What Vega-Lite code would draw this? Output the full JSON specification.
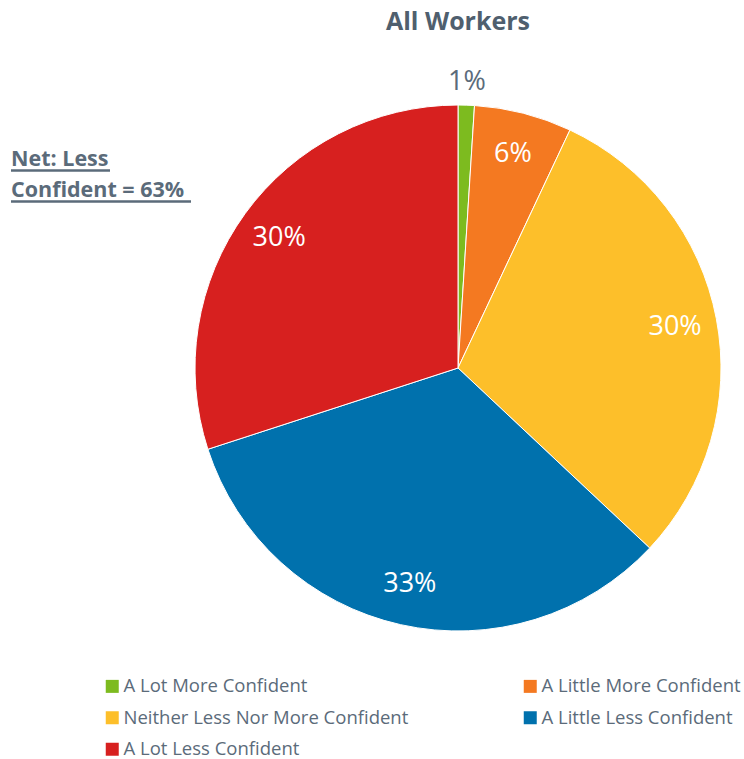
{
  "$schema": "https://vega.github.io/schema/vega-lite/v6.json",
  "width": 526,
  "height": 526,
  "autosize": "none",
  "padding": {"left": 195, "top": 105, "right": 23, "bottom": 128},
  "background": "white",
  "config": {"view": {"stroke": null}},
  "title": {"text": "All Workers", "fontSize": 25, "font": "Open Sans", "fontWeight": "bold", "color": "#4f5f6e", "anchor": "middle", "offset": 33},
  "data": {"values": [
    {"category": "A Lot More Confident", "share": 0.01, "rank": 1},
    {"category": "A Little More Confident", "share": 0.06, "rank": 2},
    {"category": "Neither Less Nor More Confident", "share": 0.30, "rank": 3},
    {"category": "A Little Less Confident", "share": 0.33, "rank": 4},
    {"category": "A Lot Less Confident", "share": 0.30, "rank": 5}
  ]},
  "layer": [
    {
      "mark": {"type": "arc", "stroke": "white", "strokeWidth": 1},
      "encoding": {
        "theta": {"field": "share", "type": "quantitative", "stack": true},
        "order": {"field": "rank", "type": "quantitative"},
        "color": {
          "field": "category", "type": "nominal",
          "scale": {
            "domain": ["A Lot More Confident", "Neither Less Nor More Confident", "A Lot Less Confident", "A Little More Confident", "A Little Less Confident"],
            "range": ["#7dbb1f", "#fdbf2a", "#d7201f", "#f47921", "#0071ad"]
          },
          "sort": null,
          "legend": {
            "title": null, "orient": "none", "legendX": -92, "legendY": 572,
            "columns": 2, "columnPadding": 112, "rowPadding": 12.5,
            "symbolType": "square", "symbolSize": 169, "symbolStrokeWidth": 0,
            "labelFont": "Open Sans", "labelFontSize": 18.5, "labelColor": "#5b6b7a", "labelOffset": 2, "labelLimit": 400
          }
        }
      }
    },
    {
      "mark": {"type": "text", "font": "Open Sans", "fontSize": 27, "align": "center", "baseline": "middle", "radius": 221, "color": "white"},
      "encoding": {
        "theta": {"field": "share", "type": "quantitative", "stack": true},
        "order": {"field": "rank", "type": "quantitative"},
        "text": {"condition": {"test": "datum.share >= 0.02", "field": "share", "type": "quantitative", "format": ".0%"}, "value": ""}
      }
    },
    {
      "mark": {"type": "text", "font": "Open Sans", "fontSize": 27, "align": "center", "baseline": "middle", "radius": 286, "color": "#5b6b7a"},
      "encoding": {
        "theta": {"field": "share", "type": "quantitative", "stack": true},
        "order": {"field": "rank", "type": "quantitative"},
        "text": {"condition": {"test": "datum.share < 0.02", "field": "share", "type": "quantitative", "format": ".0%"}, "value": ""}
      }
    },
    {
      "data": {"values": [{}]},
      "mark": {"type": "text", "font": "Open Sans", "fontSize": 21.5, "fontWeight": "bold", "align": "left", "baseline": "alphabetic", "lineHeight": 31, "color": "#5b6b7a"},
      "encoding": {
        "x": {"value": -184},
        "y": {"value": 61},
        "text": {"value": ["Net: Less", "Confident = 63%"]}
      }
    },
    {
      "data": {"values": [{}]},
      "mark": {"type": "rule", "strokeWidth": 2.5, "color": "#5b6b7a"},
      "encoding": {"x": {"value": -184}, "x2": {"value": -85}, "y": {"value": 65.5}}
    },
    {
      "data": {"values": [{}]},
      "mark": {"type": "rule", "strokeWidth": 2.5, "color": "#5b6b7a"},
      "encoding": {"x": {"value": -184}, "x2": {"value": -4}, "y": {"value": 96.5}}
    }
  ]
}
